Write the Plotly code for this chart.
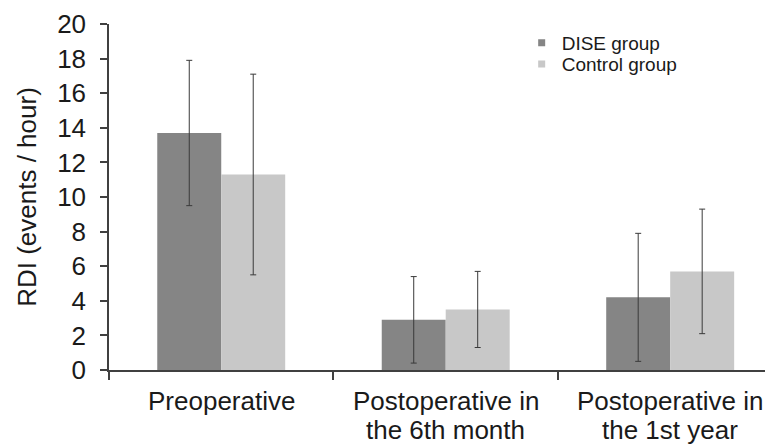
import plotly.graph_objects as go

categories = ["Preoperative", "Postoperative in the 6th month", "Postoperative in the 1st year"]
label_line1 = ["Preoperative", "Postoperative in", "Postoperative in"]
label_line2 = ["", "the 6th month", "the 1st year"]
series_names = ["DISE group", "Control group"]
dise_mean = [13.7, 2.9, 4.2]
dise_upper = [17.9, 5.4, 7.9]
dise_lower = [9.5, 0.4, 0.5]
control_mean = [11.3, 3.5, 5.7]
control_upper = [17.1, 5.7, 9.3]
control_lower = [5.5, 1.3, 2.1]
y_ticks = [0, 2, 4, 6, 8, 10, 12, 14, 16, 18, 20]

FONT = "Liberation Sans, Arial, sans-serif"
TXT = "#1a1a1a"
DISE_COLOR = "#858585"
CTRL_COLOR = "#c8c8c8"

def err(mean, upper, lower):
    return dict(
        type="data",
        array=[u - m for u, m in zip(upper, mean)],
        arrayminus=[m - l for m, l in zip(mean, lower)],
        color="#3a3a3a",
        thickness=1,
        width=3,
        visible=True,
    )

fig = go.Figure()
fig.add_trace(go.Bar(
    x=categories, y=dise_mean, name=series_names[0], showlegend=False,
    marker=dict(color=DISE_COLOR, line=dict(width=0)),
    error_y=err(dise_mean, dise_upper, dise_lower),
))
fig.add_trace(go.Bar(
    x=categories, y=control_mean, name=series_names[1], showlegend=False,
    marker=dict(color=CTRL_COLOR, line=dict(width=0)),
    error_y=err(control_mean, control_upper, control_lower),
))
# legend entries (small square keys like the reference)
fig.add_trace(go.Scatter(
    x=[None], y=[None], mode="markers", name=series_names[0], legend="legend",
    marker=dict(symbol="square", size=7, color=DISE_COLOR),
))
fig.add_trace(go.Scatter(
    x=[None], y=[None], mode="markers", name=series_names[1], legend="legend2",
    marker=dict(symbol="square", size=7, color=CTRL_COLOR),
))

annotations = []
for cat, l1, l2 in zip(categories, label_line1, label_line2):
    annotations.append(dict(
        x=cat, xref="x", y=-0.09, yref="paper", text=l1, showarrow=False,
        xanchor="center", yanchor="middle",
        font=dict(size=26, family=FONT, color=TXT),
    ))
    if l2:
        annotations.append(dict(
            x=cat, xref="x", y=-0.174, yref="paper", text=l2, showarrow=False,
            xanchor="center", yanchor="middle",
            font=dict(size=26, family=FONT, color=TXT),
        ))

legend_common = dict(
    xanchor="left", yanchor="top",
    font=dict(size=19, family=FONT, color=TXT),
    bgcolor="rgba(0,0,0,0)", itemwidth=30,
)

fig.update_layout(
    width=765, height=437,
    margin=dict(l=101, r=0, t=16, b=75, autoexpand=False),
    paper_bgcolor="white", plot_bgcolor="white",
    barmode="group", bargap=0.43, bargroupgap=0,
    font=dict(family=FONT, color=TXT, size=26),
    showlegend=True,
    legend=dict(x=0.6215, y=1.0, **legend_common),
    legend2=dict(x=0.6215, y=0.939, **legend_common),
    annotations=annotations,
    xaxis=dict(
        type="category", range=[-0.5, 2.458], automargin=False,
        showline=True, linecolor="#404040", linewidth=1.5,
        ticks="outside", tickson="boundaries", ticklen=8, tickcolor="#404040", tickwidth=1.5,
        showticklabels=False,
        showgrid=False, zeroline=False,
    ),
    yaxis=dict(
        range=[0, 20], tickvals=y_ticks, automargin=False,
        showline=True, linecolor="#404040", linewidth=1.5,
        ticks="outside", ticklen=7, tickcolor="#404040", tickwidth=1.5,
        tickfont=dict(size=26, family=FONT, color=TXT),
        ticklabelstandoff=9,
        showgrid=False, zeroline=False,
        title=dict(text="RDI (events / hour)", font=dict(size=26, family=FONT, color=TXT), standoff=13),
    ),
)

fig.write_html("out.html")
